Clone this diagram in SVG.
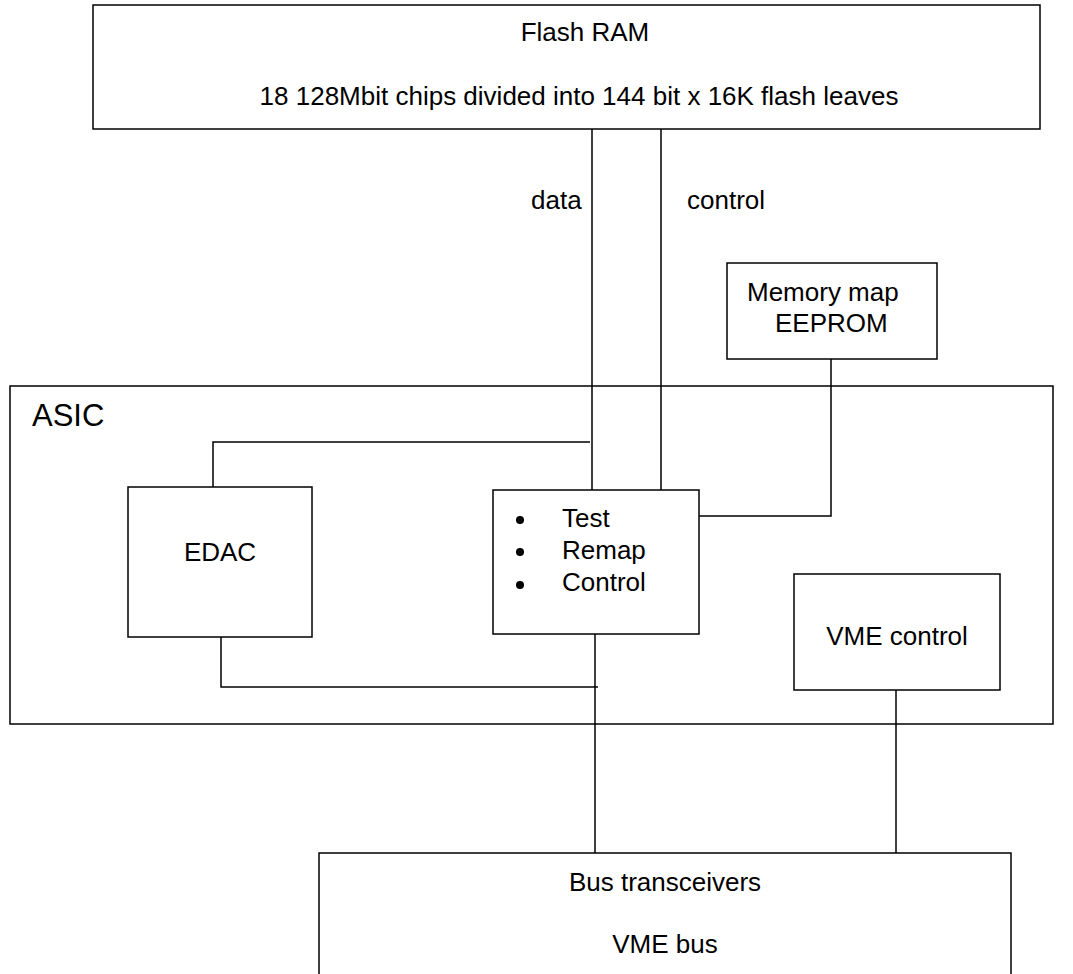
<svg xmlns="http://www.w3.org/2000/svg" width="1073" height="974" viewBox="0 0 1073 974">
<style>
.box{fill:#fff;stroke:#000;stroke-width:1.5}
.ln{fill:none;stroke:#000;stroke-width:1.5}
text{font-family:"Liberation Sans",Arial,sans-serif;font-size:26px;fill:#000}
.c{text-anchor:middle}
</style>
<rect width="1073" height="974" fill="#fff"/>
<g id="asic"><rect class="box" x="10" y="386" width="1043" height="338"/><text x="32" y="426" style="font-size:31px">ASIC</text></g>
<g id="connectors">
<path class="ln" d="M592 129V490M661 129V490"/>
<path class="ln" d="M831 359V516H699"/>
<path class="ln" d="M213 487V442H590"/>
<path class="ln" d="M221 637V687H598"/>
<path class="ln" d="M595 634V853"/>
<path class="ln" d="M896 690V853"/>
</g>
<g id="flash"><rect class="box" x="93" y="5" width="947" height="124"/><text class="c" x="585" y="41">Flash RAM</text><text class="c" x="579" y="105">18 128Mbit chips divided into 144 bit x 16K flash leaves</text></g>
<text x="531" y="209">data</text>
<text x="687" y="209">control</text>
<g id="eeprom"><rect class="box" x="727" y="263" width="210" height="96"/><text x="747" y="301">Memory map</text><text x="775" y="332">EEPROM</text></g>
<g id="edac"><rect class="box" x="128" y="487" width="184" height="150"/><text class="c" x="220" y="561">EDAC</text></g>
<g id="test"><rect class="box" x="493" y="490" width="206" height="144"/>
<circle cx="520" cy="520" r="4"/><circle cx="520" cy="552" r="4"/><circle cx="520" cy="585" r="4"/>
<text x="562" y="527">Test</text><text x="562" y="559">Remap</text><text x="562" y="591">Control</text></g>
<g id="vme"><rect class="box" x="794" y="574" width="206" height="116"/><text class="c" x="897" y="645">VME control</text></g>
<g id="bus"><rect class="box" x="319" y="853" width="692" height="140"/><text class="c" x="665" y="891">Bus transceivers</text><text class="c" x="665" y="953">VME bus</text></g>
</svg>
